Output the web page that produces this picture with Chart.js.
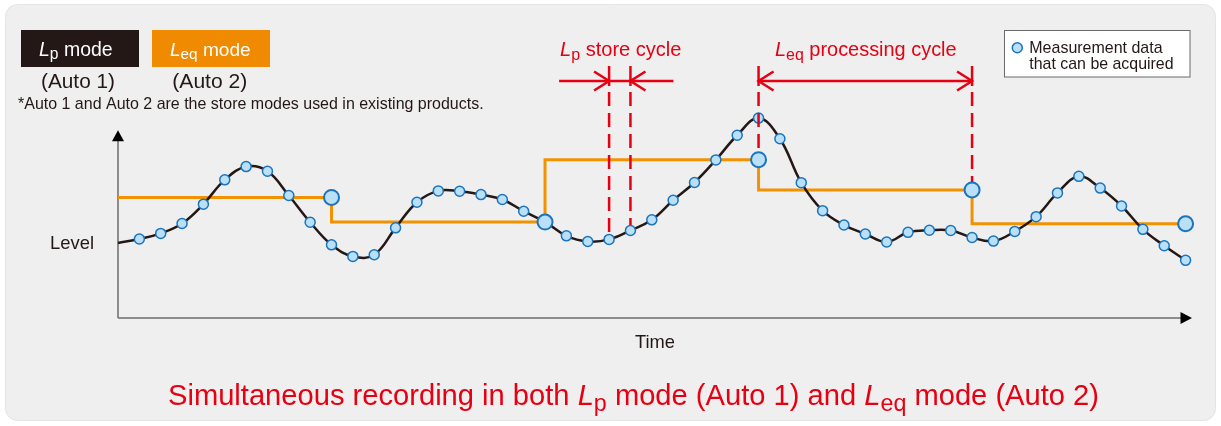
<!DOCTYPE html>
<html><head><meta charset="utf-8">
<script src="https://cdn.jsdelivr.net/npm/chart.js@4.4.1/dist/chart.umd.min.js"></script>
<style>html,body{margin:0;padding:0;background:#fff}canvas{display:block}</style>
</head><body>
<canvas id="c" width="1221" height="426"></canvas>
<script>
// ---- data ----
const timeIndex = [0,1,2,3,4,5,6,7,8,9,10,11,12,13,14,15,16,17,18,19,20,21,22,23,24,25,26,27,28,29,30,31,32,33,34,35,36,37,38,39,40,41,42,43,44,45,46,47,48,49,50];
const levelValues = [40.2,42.3,45.3,50.6,61.0,74.0,81.1,78.6,65.6,51.3,39.2,33.0,33.9,48.3,62.0,68.1,67.9,66.1,63.5,57.2,51.5,44.0,41.0,42.1,46.9,52.6,63.1,72.6,84.7,97.9,107.1,96.0,72.5,57.5,49.8,45.0,40.7,45.9,47.0,46.9,43.1,41.2,46.4,54.3,67.0,75.9,69.6,60.0,47.5,38.7,30.9];
const leqStartIndex = [0,10,20,30,40];
const leqEndIndex = [10,20,30,40,50];
const leqValues = [64.6,51.4,84.8,68.6,50.5];
const lpStoreCycleIndex = [23,24];
const leqProcessingCycleIndex = [30,40];

// ---- texts ----
const yAxisLabel = 'Level';
const xAxisLabel = 'Time';
const footnote = '*Auto 1 and Auto 2 are the store modes used in existing products.';
const legendLines = ['Measurement data', 'that can be acquired'];

const FONT = '"Liberation Sans", Arial, Helvetica, sans-serif';
const RED = '#e60012', INK = '#231815', ORANGE = '#f39200';
const PT_FILL = '#b9e0f7', PT_STROKE = '#1a74be';

const curveData = timeIndex.map((t, i) => ({x: t, y: levelValues[i]}));
const leqLineData = [];
leqValues.forEach((v, i) => { leqLineData.push({x: leqStartIndex[i], y: v}); leqLineData.push({x: leqEndIndex[i], y: v}); });
const leqPointData = leqEndIndex.map((t, i) => ({x: t, y: leqValues[i]}));

function segFont(seg, size) {
  const s = seg.sub ? size * 0.8 : size;
  return (seg.it ? 'italic ' : '') + s + 'px ' + FONT;
}
function richWidth(ctx, segs, size) {
  let w = 0;
  segs.forEach(s => { ctx.font = segFont(s, size); w += ctx.measureText(s.t).width; });
  return w;
}
function drawRich(ctx, segs, o) {
  const target = o.right - o.left;
  let size, sx = 1;
  if (o.size) { size = o.size; sx = target / richWidth(ctx, segs, size); }
  else { size = 100 * target / richWidth(ctx, segs, 100); }
  ctx.save();
  ctx.translate(o.left, o.baseline);
  ctx.scale(sx, 1);
  ctx.fillStyle = o.color || INK;
  ctx.textBaseline = 'alphabetic';
  ctx.textAlign = 'left';
  let x = 0;
  segs.forEach(s => {
    ctx.font = segFont(s, size);
    ctx.fillText(s.t, x, s.sub ? size * 0.2 : 0);
    x += ctx.measureText(s.t).width;
  });
  ctx.restore();
}
const T = t => ({t});
const Lp = [{t:'L', it:1}, {t:'p', sub:1}];
const Leq = [{t:'L', it:1}, {t:'eq', sub:1}];

function roundRect(ctx, x, y, w, h, r) {
  ctx.beginPath();
  ctx.moveTo(x + r, y); ctx.lineTo(x + w - r, y); ctx.arcTo(x + w, y, x + w, y + r, r);
  ctx.lineTo(x + w, y + h - r); ctx.arcTo(x + w, y + h, x + w - r, y + h, r);
  ctx.lineTo(x + r, y + h); ctx.arcTo(x, y + h, x, y + h - r, r);
  ctx.lineTo(x, y + r); ctx.arcTo(x, y, x + r, y, r); ctx.closePath();
}

const backgroundPlugin = {
  id: 'bg',
  beforeDraw(chart) {
    const ctx = chart.ctx;
    ctx.save();
    ctx.fillStyle = '#fff';
    ctx.fillRect(0, 0, chart.width, chart.height);
    roundRect(ctx, 5.5, 4.5, 1210, 416, 12);
    ctx.fillStyle = '#efefef';
    ctx.fill();
    ctx.strokeStyle = '#e4e4e4';
    ctx.lineWidth = 1;
    ctx.stroke();
    // axes
    const a = chart.chartArea;
    const x0 = a.left, yb = a.bottom;
    const yTop = chart.scales.y.getPixelForValue(100);
    ctx.strokeStyle = '#6e6e6e';
    ctx.lineWidth = 1.5;
    ctx.beginPath();
    ctx.moveTo(x0, yb); ctx.lineTo(x0, yTop + 8);
    ctx.moveTo(x0, yb); ctx.lineTo(a.right - 10, yb);
    ctx.stroke();
    ctx.fillStyle = '#000';
    ctx.beginPath();
    ctx.moveTo(x0, yTop - 1); ctx.lineTo(x0 - 6, yTop + 10); ctx.lineTo(x0 + 6, yTop + 10); ctx.closePath(); ctx.fill();
    ctx.beginPath();
    ctx.moveTo(a.right, yb); ctx.lineTo(a.right - 11.5, yb - 6); ctx.lineTo(a.right - 11.5, yb + 6); ctx.closePath(); ctx.fill();
    ctx.restore();
  }
};

const annotationPlugin = {
  id: 'ann',
  afterDatasetsDraw(chart) {
    const ctx = chart.ctx;
    const xs = chart.scales.x, ys = chart.scales.y;
    const topY = 66, arrowY = 81;
    ctx.save();
    ctx.strokeStyle = RED;
    ctx.lineWidth = 2.5;
    ctx.lineCap = 'butt';
    function vline(x, yBottom) {
      ctx.setLineDash([]);
      ctx.beginPath(); ctx.moveTo(x, topY); ctx.lineTo(x, topY + 20); ctx.stroke();
      ctx.setLineDash([14, 7]);
      ctx.beginPath(); ctx.moveTo(x, topY + 26); ctx.lineTo(x, yBottom); ctx.stroke();
      ctx.setLineDash([]);
    }
    function chevron(x, dir) { // dir=+1 points right, -1 points left
      ctx.beginPath();
      ctx.moveTo(x - dir * 15, arrowY - 9.5); ctx.lineTo(x, arrowY); ctx.lineTo(x - dir * 15, arrowY + 9.5);
      ctx.stroke();
    }
    // Lp store cycle
    const la = xs.getPixelForValue(lpStoreCycleIndex[0]);
    const lb = xs.getPixelForValue(lpStoreCycleIndex[1]);
    vline(la, ys.getPixelForValue(levelValues[lpStoreCycleIndex[0]]) - 5.5);
    vline(lb, ys.getPixelForValue(levelValues[lpStoreCycleIndex[1]]) - 5.5);
    ctx.beginPath(); ctx.moveTo(la - 50, arrowY); ctx.lineTo(lb + 43, arrowY); ctx.stroke();
    chevron(la, 1); chevron(lb, -1);
    // Leq processing cycle
    const pa = xs.getPixelForValue(leqProcessingCycleIndex[0]);
    const pb = xs.getPixelForValue(leqProcessingCycleIndex[1]);
    const va = leqValues[leqEndIndex.indexOf(leqProcessingCycleIndex[0])];
    const vb = leqValues[leqEndIndex.indexOf(leqProcessingCycleIndex[1])];
    vline(pa, ys.getPixelForValue(va) - 8);
    vline(pb, ys.getPixelForValue(vb) - 8);
    ctx.beginPath(); ctx.moveTo(pa, arrowY); ctx.lineTo(pb, arrowY); ctx.stroke();
    chevron(pa, -1); chevron(pb, 1);
    ctx.restore();

    // labels
    drawRich(ctx, [...Lp, T(' store cycle')], {left: 560, right: 681.5, baseline: 56, color: RED});
    drawRich(ctx, [...Leq, T(' processing cycle')], {left: 775, right: 956.7, baseline: 56, color: RED});

    // mode boxes
    ctx.save();
    ctx.fillStyle = INK; ctx.fillRect(21, 30, 118, 37);
    ctx.fillStyle = '#f08a00'; ctx.fillRect(152, 30, 118, 37);
    ctx.restore();
    drawRich(ctx, [...Lp, T(' mode')], {left: 39, right: 112.7, baseline: 55.5, color: '#fff'});
    drawRich(ctx, [...Leq, T(' mode')], {left: 170, right: 250.7, baseline: 55.5, color: '#fff'});
    drawRich(ctx, [T('(Auto 1)')], {left: 41, right: 115, baseline: 88.3});
    drawRich(ctx, [T('(Auto 2)')], {left: 172.3, right: 247.3, baseline: 88.3});
    drawRich(ctx, [T(footnote)], {left: 18, right: 484, baseline: 109.3});

    // measurement legend
    ctx.save();
    ctx.fillStyle = '#fff'; ctx.strokeStyle = '#6a6a6a'; ctx.lineWidth = 1;
    ctx.fillRect(1004.5, 30.5, 185.5, 46.5); ctx.strokeRect(1004.5, 30.5, 185.5, 46.5);
    ctx.beginPath(); ctx.arc(1017.3, 47.7, 5, 0, Math.PI * 2);
    ctx.fillStyle = PT_FILL; ctx.fill(); ctx.strokeStyle = PT_STROKE; ctx.lineWidth = 1.5; ctx.stroke();
    ctx.restore();
    drawRich(ctx, [T(legendLines[0])], {left: 1029.3, right: 1162.7, baseline: 53.3});
    drawRich(ctx, [T(legendLines[1])], {left: 1029.3, right: 1173.7, baseline: 68.7});

    // axis labels
    drawRich(ctx, [T(yAxisLabel)], {left: 50, right: 94, baseline: 249.3});
    drawRich(ctx, [T(xAxisLabel)], {left: 635, right: 675, baseline: 348.3});

    // title
    drawRich(ctx, [T('Simultaneous recording in both '), ...Lp, T(' mode (Auto 1) and '), ...Leq, T(' mode (Auto 2)')],
      {left: 168, right: 1099, baseline: 405, size: 29, color: RED});
  }
};

new Chart(document.getElementById('c'), {
  type: 'line',
  data: {
    datasets: [
      {
        label: 'Leq end', data: leqPointData, order: 0, showLine: false, clip: false,
        pointRadius: 7.5, pointBackgroundColor: PT_FILL, pointBorderColor: PT_STROKE, pointBorderWidth: 2
      },
      {
        label: 'Level', data: curveData, order: 1, clip: false,
        borderColor: INK, borderWidth: 2.5, tension: 0.4, fill: false,
        pointRadius: c => c.dataIndex === 0 ? 0 : 5,
        pointBackgroundColor: PT_FILL, pointBorderColor: PT_STROKE, pointBorderWidth: 1.5
      },
      {
        label: 'Leq', data: leqLineData, order: 2, clip: false,
        borderColor: ORANGE, borderWidth: 3, tension: 0, fill: false, pointRadius: 0,
        borderJoinStyle: 'miter'
      }
    ]
  },
  options: {
    responsive: false, animation: false, devicePixelRatio: 1,
    layout: {padding: {left: 118, right: 29, top: 94, bottom: 108}},
    scales: {
      x: {type: 'linear', min: 0, max: 50.3, display: false},
      y: {type: 'linear', min: 0, max: 120, display: false}
    },
    plugins: {legend: {display: false}, tooltip: {enabled: false}, title: {display: false}},
    events: []
  },
  plugins: [backgroundPlugin, annotationPlugin]
});
</script>
</body></html>
